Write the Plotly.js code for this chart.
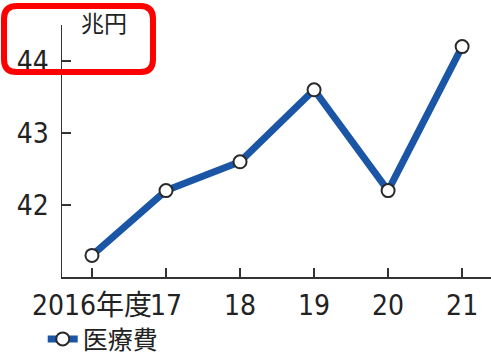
<!DOCTYPE html>
<html>
<head>
<meta charset="utf-8">
<script src="https://cdn.plot.ly/plotly-3.0.1.min.js"></script>
<style>html,body{margin:0;padding:0;background:#fff;}#chart{width:491px;height:357px;}</style>
</head>
<body>
<div id="chart"></div>
<script>
var years = [2016, 2017, 2018, 2019, 2020, 2021];
var tickLabels = ["2016年度", "17", "18", "19", "20", "21"];
var medicalCost = [41.3, 42.2, 42.6, 43.6, 42.2, 44.2];
var yTicks = [42, 43, 44];
var seriesName = "医療費";
var unitLabel = "兆円";

var FONT = "'DejaVu Sans Condensed', 'Noto Sans CJK JP', sans-serif";
var CJK = "'Noto Sans CJK JP', sans-serif";

var trace = {
  x: years,
  y: medicalCost,
  name: seriesName,
  type: "scatter",
  mode: "lines+markers",
  line: {color: "#1a55a6", width: 7},
  marker: {size: 13, color: "#ffffff", line: {color: "#2a2a2a", width: 2}},
  cliponaxis: false
};

function roundRect(x0, y0, x1, y1, rx, ry) {
  return "M" + (x0 + rx) + "," + y1 +
    " L" + (x1 - rx) + "," + y1 +
    " Q" + x1 + "," + y1 + " " + x1 + "," + (y1 - ry) +
    " L" + x1 + "," + (y0 + ry) +
    " Q" + x1 + "," + y0 + " " + (x1 - rx) + "," + y0 +
    " L" + (x0 + rx) + "," + y0 +
    " Q" + x0 + "," + y0 + " " + x0 + "," + (y0 + ry) +
    " L" + x0 + "," + (y1 - ry) +
    " Q" + x0 + "," + y1 + " " + (x0 + rx) + "," + y1 + " Z";
}

var layout = {
  width: 491,
  height: 357,
  margin: {l: 62, r: 0, t: 25, b: 80, autoexpand: false},
  paper_bgcolor: "#ffffff",
  plot_bgcolor: "#ffffff",
  font: {family: FONT, color: "#222222", size: 28},
  showlegend: true,
  legend: {
    xref: "container", yref: "container",
    x: 0.087, y: 0.05, xanchor: "left", yanchor: "middle",
    orientation: "h", bgcolor: "rgba(0,0,0,0)",
    font: {family: CJK, size: 25, color: "#222222"}
  },
  xaxis: {
    range: [2015.595, 2021.39],
    tickvals: years,
    ticktext: tickLabels,
    tickangle: 0,
    ticks: "inside",
    ticklen: 9,
    tickwidth: 1.5,
    tickcolor: "#333333",
    showline: true,
    linecolor: "#333333",
    linewidth: 1.5,
    showgrid: false,
    zeroline: false,
    automargin: false,
    ticklabelstandoff: 3,
    tickfont: {family: FONT, size: 28, color: "#222222"}
  },
  yaxis: {
    range: [41.0, 44.5],
    tickvals: yTicks,
    ticks: "inside",
    ticklen: 9,
    tickwidth: 1.5,
    tickcolor: "#333333",
    showline: true,
    linecolor: "#333333",
    linewidth: 1.5,
    showgrid: false,
    zeroline: false,
    automargin: false,
    ticklabelstandoff: 6,
    tickfont: {family: FONT, size: 28, color: "#222222"}
  },
  annotations: [{
    text: unitLabel,
    xref: "paper", yref: "paper",
    x: 0.098, y: 1.012,
    xanchor: "center", yanchor: "middle",
    showarrow: false,
    font: {family: CJK, size: 23, color: "#222222"}
  }],
  shapes: [{
    type: "path",
    xref: "paper", yref: "paper",
    path: roundRect(-0.1352, 0.8135, 0.2121, 1.0754, 0.03, 0.05),
    line: {color: "#ff0000", width: 6},
    fillcolor: "rgba(0,0,0,0)",
    layer: "above"
  }]
};

Plotly.newPlot("chart", [trace], layout, {displayModeBar: false, staticPlot: true});
</script>
</body>
</html>
